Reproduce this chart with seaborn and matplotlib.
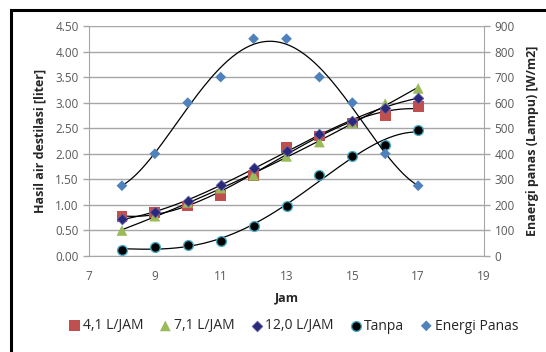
import numpy as np
import pandas as pd
import matplotlib
matplotlib.use("Agg")
import matplotlib.pyplot as plt
import seaborn as sns

jam = [8, 9, 10, 11, 12, 13, 14, 15, 16, 17]
s41 = [0.78, 0.85, 0.98, 1.18, 1.58, 2.13, 2.35, 2.60, 2.75, 2.93]
s71 = [0.50, 0.78, 1.05, 1.33, 1.58, 1.95, 2.23, 2.60, 2.98, 3.28]
s120 = [0.72, 0.87, 1.08, 1.38, 1.72, 2.05, 2.38, 2.65, 2.90, 3.10]
tanpa = [0.12, 0.17, 0.22, 0.30, 0.58, 0.98, 1.58, 1.95, 2.17, 2.47]
energi = [275, 400, 600, 700, 850, 850, 700, 600, 400, 275]

labels = ["4,1 L/JAM", "7,1 L/JAM", "12,0 L/JAM", "Tanpa", "Energi Panas"]
xticks = [7, 9, 11, 13, 15, 17, 19]
yticks_left = [0, 0.5, 1.0, 1.5, 2.0, 2.5, 3.0, 3.5, 4.0, 4.5]
yticks_right = [0, 100, 200, 300, 400, 500, 600, 700, 800, 900]

sns.set_style("white")
plt.rcParams['font.family'] = ['Open Sans', 'DejaVu Sans']

fig = plt.figure(figsize=(5.46, 3.52), dpi=100)
ax = fig.add_axes([89/546, 1-256/352, (484-89)/546, (256-26)/352])
ax2 = ax.twinx()

gray = "#a6a6a6"
tickc = "#595959"

xs = np.linspace(8, 17, 200)
df = pd.DataFrame({"jam": jam, "s41": s41, "s71": s71, "s120": s120, "tanpa": tanpa, "energi": energi})

# trendlines (polynomial fits of the data)
for col, deg in [("s41", 3), ("s71", 3), ("s120", 3), ("tanpa", 4)]:
    c = np.polyfit(df["jam"], df[col], deg)
    ax.plot(xs, np.polyval(c, xs), color="black", lw=0.9, zorder=2)
ce = np.polyfit(df["jam"], df["energi"], 4)
ax2.plot(xs, np.polyval(ce, xs), color="black", lw=0.9, zorder=2)

sns.scatterplot(data=df, x="jam", y="s41", ax=ax, marker="s", s=60, color="#C0504D", edgecolor="none", zorder=3, label=labels[0], legend=False)
sns.scatterplot(data=df, x="jam", y="s71", ax=ax, marker="^", s=60, color="#9BBB59", edgecolor="none", zorder=3, label=labels[1], legend=False)
sns.scatterplot(data=df, x="jam", y="s120", ax=ax, marker="D", s=30, color="#2B2A7A", edgecolor="#6060b0", linewidth=0.5, zorder=4, label=labels[2], legend=False)
sns.scatterplot(data=df, x="jam", y="tanpa", ax=ax, marker="o", s=50, color="black", edgecolor="#4BACC6", linewidth=1.0, zorder=4, label=labels[3], legend=False)
sns.scatterplot(data=df, x="jam", y="energi", ax=ax2, marker="D", s=30, color="#4F81BD", edgecolor="none", zorder=4, label=labels[4], legend=False)

ax.set_xlim(7, 19)
ax.set_ylim(0, 4.5)
ax2.set_ylim(0, 900)
ax.set_xticks(xticks)
ax.set_yticks(yticks_left)
ax.set_yticklabels([f"{v:.2f}" for v in yticks_left])
ax2.set_yticks(yticks_right)
ax.grid(axis="y", color=gray, lw=1)
ax.set_axisbelow(True)

for a in (ax, ax2):
    for s in a.spines.values():
        s.set_visible(False)
ax.spines["left"].set_visible(True)
ax.spines["left"].set_color(gray)
ax.spines["bottom"].set_visible(True)
ax.spines["bottom"].set_color(gray)
ax2.spines["right"].set_visible(True)
ax2.spines["right"].set_color(gray)

ax.tick_params(axis="both", colors=gray, labelcolor=tickc, labelsize=8.5, length=4, width=1, direction="out")
ax.tick_params(axis="x", pad=6)
ax2.tick_params(axis="y", colors=gray, labelcolor=tickc, labelsize=8.5, length=4, width=1, direction="out")

ax.set_xlabel("Jam", fontsize=9, fontweight="bold", labelpad=6)
ax.set_ylabel("Hasil air destilasi [liter]", fontsize=9, fontweight="bold", labelpad=6)
ax2.set_ylabel("Enaergi panas (Lampu) [W/m2]", fontsize=9, fontweight="bold", labelpad=8)

h1, l1 = ax.get_legend_handles_labels()
h2, l2 = ax2.get_legend_handles_labels()
fig.legend(h1 + h2, l1 + l2, loc="center", bbox_to_anchor=(292/546, 1-326/352), ncol=5, frameon=False,
           fontsize=10, handletextpad=0.0, handlelength=1.2, columnspacing=1.0, markerscale=1.0)

# outer frame
fig.patches.append(matplotlib.patches.Rectangle((11/546, -0.05), 1.0, 1-10/352+0.05, transform=fig.transFigure,
                                                fill=False, edgecolor="black", lw=2.2, zorder=0))

fig.savefig("out.png", dpi=100)
